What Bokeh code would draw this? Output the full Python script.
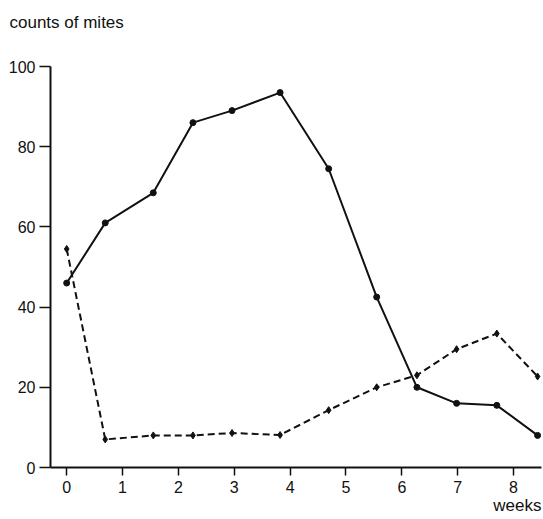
from bokeh.plotting import figure
from bokeh.models import Range1d, FixedTicker, Title
from bokeh.embed import file_html
from bokeh.resources import INLINE

weeks = [0, 0.69, 1.55, 2.26, 2.96, 3.82, 4.69, 5.55, 6.27, 6.98, 7.70, 8.43]
series_solid = [46, 61, 68.5, 86, 89, 93.5, 74.5, 42.5, 20, 16, 15.5, 8]
series_dashed = [54.5, 7, 8, 8, 8.6, 8.1, 14.3, 20, 23, 29.5, 33.4, 22.7]
x_ticks = [0, 1, 2, 3, 4, 5, 6, 7, 8]
y_ticks = [0, 20, 40, 60, 80, 100]
y_title = "counts of mites"
x_title = "weeks"

FONT = "Liberation Sans"
INK = "#111111"

p = figure(width=543, height=519, output_backend="svg", toolbar_location=None,
           x_range=Range1d(-0.29, 8.5), y_range=Range1d(0, 100),
           min_border_left=50, min_border_right=2, min_border_top=66, min_border_bottom=52)
p.outline_line_color = None
p.xgrid.visible = False
p.ygrid.visible = False

# spacer between frame and the y-title (placed nearest the frame)
p.add_layout(Title(text=" ", text_font_size="1px", standoff=32), "above")

p.title.text = y_title
p.title.align = "left"
p.title.vertical_align = "bottom"
p.title.offset = -41
p.title.standoff = 0
p.title.text_font = FONT
p.title.text_font_size = "17px"
p.title.text_font_style = "normal"
p.title.text_color = INK

for ax in (p.xaxis[0], p.yaxis[0]):
    ax.axis_line_width = 2
    ax.axis_line_color = INK
    ax.major_tick_line_color = INK
    ax.major_tick_line_width = 1.5
    ax.minor_tick_line_color = None
    ax.major_tick_in = 0
    ax.major_label_text_font = FONT
    ax.major_label_text_font_size = "16px"
    ax.major_label_text_color = INK

p.xaxis.ticker = FixedTicker(ticks=x_ticks)
p.yaxis.ticker = FixedTicker(ticks=y_ticks)
p.xaxis.major_tick_out = 8
p.yaxis.major_tick_out = 11
p.xaxis.major_label_standoff = 5
p.yaxis.major_label_standoff = 4

p.add_layout(Title(text=x_title, align="right", vertical_align="top", standoff=0,
                   text_font=FONT, text_font_size="17px", text_font_style="normal",
                   text_color=INK), "below")

p.line(weeks, series_solid, line_color=INK, line_width=2)
p.scatter(weeks, series_solid, size=6, color=INK)
p.line(weeks, series_dashed, line_color=INK, line_width=2, line_dash="7 4")
p.scatter(weeks, series_dashed, marker="diamond", size=7, color=INK)

open("out.html", "w").write(file_html(p, INLINE))
